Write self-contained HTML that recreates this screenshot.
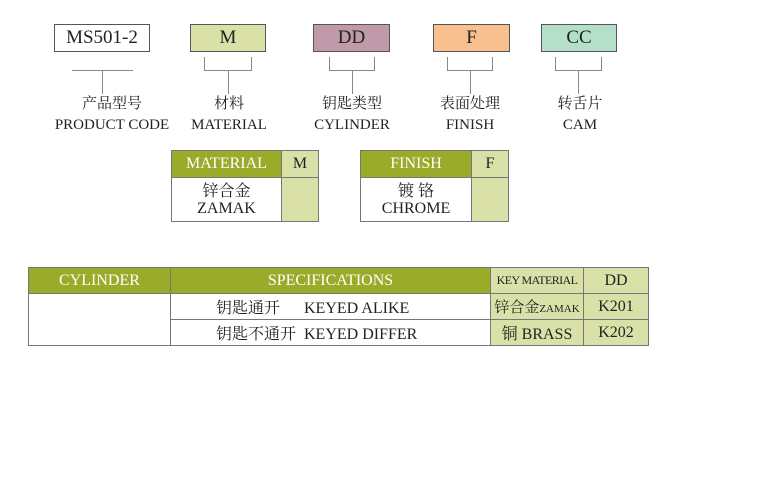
<!DOCTYPE html><html><head><meta charset="utf-8"><style>
body{margin:0;width:778px;height:500px;background:#fff;position:relative;font-family:"Liberation Serif","Noto Serif CJK SC",serif;color:#222}
.a{position:absolute;box-sizing:border-box}
.bx{border:1px solid #555;text-align:center;font-size:19px;line-height:26px}
.l{position:absolute;background:#888}
.t{position:absolute;text-align:center;font-size:15px;line-height:21px;width:140px}
.g{background:#9aab2a;color:#fff}
.lg{background:#d9e0a8}
table{table-layout:fixed;border-collapse:collapse;text-align:center}
td{padding:0;border:1px solid #777;overflow:hidden;white-space:nowrap}
</style></head><body>
<div class="a bx" style="left:54px;top:24px;width:96px;height:28px;background:#fff">MS501-2</div>
<div class="a bx" style="left:190px;top:24px;width:76px;height:28px;background:#d9e0a8">M</div>
<div class="a bx" style="left:313px;top:24px;width:77px;height:28px;background:#c09aa8">DD</div>
<div class="a bx" style="left:433px;top:24px;width:77px;height:28px;background:#f7c08e">F</div>
<div class="a bx" style="left:541px;top:24px;width:76px;height:28px;background:#b4dfc8">CC</div>

<div class="l" style="left:72px;top:70px;width:61px;height:1px"></div>
<div class="l" style="left:102px;top:70px;width:1px;height:24px"></div>

<div class="a" style="left:204px;top:57px;width:48px;height:14px;border:1px solid #888;border-top:none"></div>
<div class="l" style="left:228px;top:70px;width:1px;height:24px"></div>
<div class="a" style="left:329px;top:57px;width:46px;height:14px;border:1px solid #888;border-top:none"></div>
<div class="l" style="left:352px;top:70px;width:1px;height:24px"></div>
<div class="a" style="left:447px;top:57px;width:46px;height:14px;border:1px solid #888;border-top:none"></div>
<div class="l" style="left:470px;top:70px;width:1px;height:24px"></div>
<div class="a" style="left:555px;top:57px;width:47px;height:14px;border:1px solid #888;border-top:none"></div>
<div class="l" style="left:578px;top:70px;width:1px;height:24px"></div>

<div class="t" style="left:42px;top:94px">产品型号<br>PRODUCT CODE</div>
<div class="t" style="left:159px;top:94px">材料<br>MATERIAL</div>
<div class="t" style="left:282px;top:94px">钥匙类型<br>CYLINDER</div>
<div class="t" style="left:400px;top:94px">表面处理<br>FINISH</div>
<div class="t" style="left:510px;top:94px">转舌片<br>CAM</div>

<table class="a" style="left:171px;top:150px;width:147px;font-size:16px">
<col style="width:110px"><col style="width:37px">
<tr style="height:27px"><td class="g">MATERIAL</td><td class="lg">M</td></tr>
<tr style="height:44px"><td style="line-height:17px">锌合金<br>ZAMAK</td><td class="lg"></td></tr></table>
<table class="a" style="left:360px;top:150px;width:148px;font-size:16px">
<col style="width:111px"><col style="width:37px">
<tr style="height:27px"><td class="g">FINISH</td><td class="lg">F</td></tr>
<tr style="height:44px"><td style="line-height:17px">镀 铬<br>CHROME</td><td class="lg"></td></tr></table>

<table class="a" style="left:28px;top:267px;width:620px;font-size:16px">
<col style="width:142px"><col style="width:320px"><col style="width:93px"><col style="width:65px">
<tr style="height:26px"><td class="g">CYLINDER</td><td class="g">SPECIFICATIONS</td><td class="lg" style="font-size:12px;letter-spacing:-0.6px">KEY MATERIAL</td><td class="lg">DD</td></tr>
<tr style="height:26px"><td rowspan="2"></td><td style="text-align:left;padding-left:45px">钥匙通开&nbsp;&nbsp;&nbsp;&nbsp;&nbsp;&nbsp;KEYED ALIKE</td><td class="lg" style="font-size:15px">锌合金<span style="font-size:11px">ZAMAK</span></td><td class="lg">K201</td></tr>
<tr style="height:26px"><td style="text-align:left;padding-left:45px">钥匙不通开&nbsp;&nbsp;KEYED DIFFER</td><td class="lg">铜 BRASS</td><td class="lg">K202</td></tr>
</table>
</body></html>
